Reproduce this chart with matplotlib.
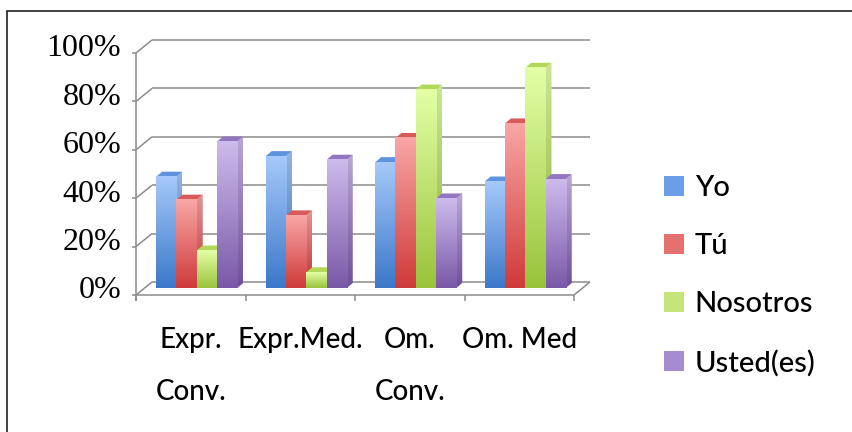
import numpy as np
import matplotlib
matplotlib.use('Agg')
import matplotlib.pyplot as plt
from matplotlib.patches import Polygon, Rectangle, Patch
from matplotlib.colors import LinearSegmentedColormap, to_rgb

# data
categories = ['Expr.\nConv.', 'Expr.Med.', 'Om.\nConv.', 'Om. Med']
series = ['Yo', 'Tú', 'Nosotros', 'Usted(es)']
yo = [0.46, 0.545, 0.52, 0.44]
tu = [0.365, 0.30, 0.62, 0.68]
nosotros = [0.155, 0.065, 0.82, 0.91]
usted = [0.605, 0.53, 0.37, 0.45]
values = [yo, tu, nosotros, usted]
y_ticks = [0, 0.2, 0.4, 0.6, 0.8, 1.0]
y_labels = ['0%', '20%', '40%', '60%', '80%', '100%']

# styling
top_colours = ['#A6C9FA', '#F9A6A6', '#E3FFA6', '#CDBBEC']
bottom_colours = ['#3B78C9', '#CF3A3A', '#99C33B', '#7A58A8']
cap_colours = ['#5E93DE', '#D85A5A', '#B2D85A', '#9375C0']
legend_colours = ['#6A9EE6', '#E57070', '#C3E57A', '#A58BCF']
grid_col = '#8C8C8C'

fig = plt.figure(figsize=(8.52, 4.32), dpi=100)
ax = fig.add_axes([142 / 852, 144 / 432, 438 / 852, 242 / 432])
ax.set_xlim(-0.5, 3.5)
ax.set_ylim(0, 1)
ax.axis('off')

# pixel -> data units, used for the fake 3D depth
PX_X = 4 / 438
PX_Y = 1 / 242
fx, fy = -6 * PX_X, -7 * PX_Y   # front plane
bx, by = 10 * PX_X, 6 * PX_Y    # back wall
ddx, ddy = 6 * PX_X, 5 * PX_Y   # bar depth

line_kw = dict(color=grid_col, lw=1.1, clip_on=False, solid_capstyle='butt')

# back wall gridlines + diagonals + front value axis
for v in y_ticks:
    ax.plot([-0.5 + bx, 3.5 + bx], [v + by, v + by], zorder=1, **line_kw)
    ax.plot([-0.5 + fx, -0.5 + bx], [v + fy, v + by], zorder=1, **line_kw)
    ax.plot([-0.5 + fx - 4 * PX_X, -0.5 + fx], [v + fy, v + fy], zorder=1, **line_kw)
ax.plot([-0.5 + fx, -0.5 + fx], [fy - 6 * PX_Y, 1 + fy], zorder=1, **line_kw)

# floor front edge, category ticks, right diagonal
ax.plot([-0.5 + fx, 3.5 + fx], [fy, fy], zorder=1, **line_kw)
for k in range(len(categories) + 1):
    ax.plot([k - 0.5 + fx, k - 0.5 + fx], [fy, fy - 6 * PX_Y], zorder=1, **line_kw)
ax.plot([3.5 + fx, 3.5 + bx], [fy, by], zorder=1, **line_kw)


def darker(c, f):
    r, g, b = to_rgb(c)
    return (r * f, g * f, b * f)


grad = np.linspace(0, 1, 128).reshape(-1, 1)
bar_w = 0.185
z = 2
for i in range(len(categories)):
    for j, s in enumerate(series):
        h = values[j][i]
        x0 = i + (j - 2) * bar_w
        x1 = x0 + bar_w
        cmap = LinearSegmentedColormap.from_list('c', [bottom_colours[j], top_colours[j]])
        cmap_side = LinearSegmentedColormap.from_list(
            'cs', [darker(bottom_colours[j], 0.9), darker(top_colours[j], 0.9)])
        # side face
        side = Polygon([(x1, 0), (x1, h), (x1 + ddx, h + ddy), (x1 + ddx, ddy)],
                       closed=True, fc='none', ec='none', transform=ax.transData)
        ax.add_patch(side)
        im = ax.imshow(grad, cmap=cmap_side, extent=[x1, x1 + ddx, 0, h + ddy],
                       origin='lower', aspect='auto', zorder=z, interpolation='bilinear')
        im.set_clip_path(side)
        # top face
        ax.add_patch(Polygon([(x0, h), (x1, h), (x1 + ddx, h + ddy), (x0 + ddx, h + ddy)],
                             closed=True, fc=cap_colours[j], ec='none', zorder=z + 0.5))
        # front face
        ax.imshow(grad, cmap=cmap, extent=[x0, x1, 0, h], origin='lower',
                  aspect='auto', zorder=z + 1, interpolation='bilinear')
        z += 2

ax.set_xlim(-0.5, 3.5)
ax.set_ylim(0, 1)

# value labels
for v, lab in zip(y_ticks, y_labels):
    ax.text(-0.5 + fx - 15 * PX_X, v + fy + 4 * PX_Y, lab, ha='right', va='center',
            fontsize=23, family='Liberation Serif', color='black', clip_on=False)

# category labels
for i, cat in enumerate(categories):
    for n, part in enumerate(cat.split('\n')):
        ax.text(i + fx, fy - (45 + 52 * n) * PX_Y, part, ha='center', va='center',
                fontsize=20, family='Lato', weight='medium', color='black', clip_on=False)

handles = [Patch(facecolor=c, edgecolor='none') for c in legend_colours]
fig.legend(handles, series, loc='center left', bbox_to_anchor=(664 / 852, 0.362),
           frameon=False, prop={'family': 'Lato', 'size': 21, 'weight': 'medium'},
           handlelength=0.7, handleheight=0.7, handletextpad=0.35,
           labelspacing=1.1, borderpad=0, borderaxespad=0)

# outer frame
fig.add_artist(Rectangle((7 / 852, -0.1), 2, (432 - 11) / 432 + 0.1,
                         transform=fig.transFigure, fill=False, ec='#333333', lw=1.3))

fig.savefig('out.png', dpi=100)
